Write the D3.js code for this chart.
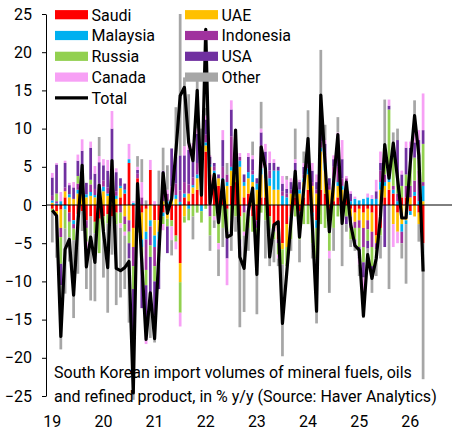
<!DOCTYPE html>
<html>
<head>
<meta charset="utf-8">
<script src="https://cdn.jsdelivr.net/npm/d3@7"></script>
<style>
  body { margin: 0; background: #fff; }
  svg { display: block; font-family: Roboto, "Noto Sans", sans-serif; }
</style>
</head>
<body>
<svg id="chart" width="452" height="431"></svg>
<script>
// monthly contributions, Jan 2019 .. Apr 2026, % y/y
const saudi = [
  -0.5, -0.8, -0.6, 1.0, -1.0, -2.0, -1.2, -0.8, -2.0, -1.5, -2.2, -1.8,
  -1.5, -1.2, -1.5, -1.0, 1.0, 1.5, 5.5, -3.0, 3.5, -1.0, -0.5, 4.6,
  -2.0, -2.0, -1.0, -1.0, -2.0, -4.0, -7.6, 1.0, 0.5, 1.5, 2.0, 1.5,
  7.0, 4.0, 3.0, 2.5, 1.0, -0.5, 2.5, 3.0, -1.5, 1.0, 1.5, -1.5,
  -2.0, 1.0, 1.0, -1.5, -3.0, -4.5, -5.0, -2.5, -1.5, 1.0, -0.8, 1.0,
  2.0, -1.0, -2.0, 2.0, 1.5, -1.0, 0.5, 1.0, 0.5, 1.0, -0.5, -1.0,
  -0.5, -1.0, -0.5, -1.0, -4.0, -3.0, 1.0, 2.0, 1.5, -1.0, 1.0, 1.0,
  -0.8, 1.2, -1.0, -5.0
];
const uae = [
  0.3, -1.2, -2.4, 0.8, 1.0, 0.8, 1.5, 1.5, 1.0, 1.2, 1.0, 1.3,
  1.8, 1.2, 1.0, 0.8, 1.2, -1.5, -2.0, -2.5, -1.8, -3.5, -3.0, -2.0,
  -2.0, -1.5, 0.5, -0.8, 0.8, 0.8, -2.5, -1.5, 1.0, 0.8, 1.5, 1.0,
  0.8, 1.0, 1.0, 1.0, 2.0, 2.5, 2.0, 3.0, 5.0, 1.5, 2.0, 3.0,
  2.0, 3.0, 2.5, 2.5, 2.0, 2.0, -0.8, -3.0, 1.5, 2.0, 1.5, 2.0,
  2.0, 2.5, 1.5, 5.0, 3.0, 2.0, 2.5, 1.5, 1.5, 1.5, -1.0, -1.2,
  -1.5, -2.0, -1.5, -2.5, -1.0, 2.0, 1.5, 1.0, -2.5, -2.5, -2.5, -2.0,
  1.0, -1.5, -1.5, 0.5
];
const malaysia = [
  0.3, 0.2, 0.5, -0.6, 0.4, -0.5, 0.5, 0.8, 0.4, 0.5, 0.3, 0.5,
  0.6, 0.3, 0.5, 0.4, 0.3, 0.5, 0.5, 0.3, -0.8, -1.0, -1.0, -0.8,
  -1.5, -1.0, -0.5, 0.5, 0.4, 0.5, 0.4, 0.5, -0.5, 0.3, 0.5, -0.8,
  0.4, 0.3, 0.5, -0.5, 0.5, 0.5, 0.5, 0.5, 0.8, 0.5, 0.8, 1.0,
  0.8, 0.8, 1.5, 1.0, 2.5, 2.5, 1.2, 1.0, -0.5, 0.5, 0.5, 0.5,
  0.8, -0.5, -1.0, 0.5, 1.0, -1.5, 0.5, 0.5, 0.5, 0.5, 0.5, 0.8,
  0.6, 0.8, 1.0, 0.8, 0.8, 1.0, 0.5, 1.0, 0.5, 0.5, -1.0, -0.5,
  -0.5, 0.5, 0.5, 2.0
];
const indonesia = [
  0.6, 0.3, -1.2, 0.5, -1.2, -0.6, 0.8, 0.7, -1.0, 1.0, 0.8, 1.0,
  0.8, 0.8, 1.2, 0.6, -1.0, -1.0, -1.5, -2.5, 0.6, 1.0, -4.0, -2.5,
  -2.5, -1.5, 1.5, 1.0, 1.2, 1.5, 1.5, 1.5, 1.2, 1.0, 1.5, 2.0,
  1.0, -1.5, 0.5, -1.0, 1.5, 1.0, 4.0, 0.8, 0.5, -1.0, -1.5, 0.5,
  -1.0, 3.0, 0.5, 1.0, -0.5, -0.5, 0.6, 0.5, 0.5, 0.5, -0.7, 0.5,
  0.5, 0.5, 0.5, 0.8, 1.0, 0.5, 1.5, 2.0, 1.0, 0.5, -1.5, -0.8,
  -1.0, -2.5, -1.2, -2.0, -0.8, 1.5, 1.0, 0.5, 0.5, 1.0, -1.5, 1.5,
  1.5, 1.5, 4.0, 0.5
];
const russia = [
  -0.4, 1.0, -3.5, -2.5, -2.0, -1.5, 1.0, 1.6, -1.8, 0.6, -1.5, -4.5,
  -1.6, -1.2, 0.8, -1.5, -1.4, -1.0, -1.5, -3.0, -1.0, -1.5, -2.0, -1.5,
  -2.0, -1.0, -1.0, -1.0, -0.8, -0.8, -4.0, -0.8, -1.5, -1.5, -1.0, -1.5,
  -0.5, -2.5, -1.5, -3.5, -3.0, -3.0, -2.0, -1.5, -3.0, -2.5, -1.5, -2.0,
  -1.5, -1.0, -2.0, -1.5, -1.0, -1.5, -2.0, -2.5, -2.5, -1.5, -3.0, -2.5,
  -2.5, -3.5, -4.0, -2.5, -3.0, -3.5, -3.0, -1.5, -2.0, -1.5, -1.5, -1.5,
  -2.5, -2.0, -1.5, -2.5, -1.0, -1.0, 1.5, 8.0, 4.0, 2.0, 1.5, 1.5,
  3.0, 3.0, 1.5, 5.0
];
const usa = [
  2.4, 3.8, -2.8, 3.2, 1.2, 1.5, 2.0, 2.5, 1.5, 4.2, 2.0, 2.8,
  2.0, 2.2, 6.5, 2.5, 1.0, 0.8, -2.0, -10.0, 0.5, -6.5, -6.0, -5.0,
  -4.5, -4.0, 2.5, -3.5, 5.0, 3.5, 4.6, 3.5, 4.5, 3.5, 3.8, 3.0,
  2.0, 1.0, 0.5, 0.5, 3.5, -3.5, 3.5, 1.0, -2.0, 1.0, 2.0, 1.5,
  0.7, 1.7, 1.5, 1.0, 1.0, 0.5, 1.0, 0.6, 1.0, 1.5, 1.0, 1.0,
  1.5, 1.5, 1.0, 1.5, 1.5, 1.0, 1.0, 3.0, 2.5, -1.0, 1.0, -1.0,
  -1.5, -2.0, -1.0, -1.0, 1.0, 1.0, -5.5, 0.5, 1.0, 5.0, 1.5, 3.5,
  2.0, 2.0, 2.5, 1.8
];
const canada = [
  0.6, 0.2, 1.2, 0.3, 0.3, 0.7, 0.8, 1.5, -1.0, 0.8, 1.0, 0.8,
  0.8, 1.4, 2.3, 0.5, -0.6, -0.5, 2.0, 0.2, 0.4, 2.0, -1.7, 1.3,
  0.5, 0.0, -0.8, 0.5, -1.8, -1.0, -1.8, 1.2, 0.8, 1.0, 0.7, 0.5,
  0.5, 0.2, -0.5, -0.8, 1.3, -3.5, 1.2, 0.5, 0.5, -0.5, 0.5, 0.5,
  -0.5, 0.5, 1.0, 1.5, 0.5, -0.5, 1.0, 1.2, 0.5, 0.5, 0.3, 0.5,
  0.6, 1.0, 1.0, 0.5, 0.5, -1.0, 0.5, 1.5, 2.5, 0.3, 0.3, 0.3,
  -0.8, -3.5, 0.5, 0.5, 1.5, 1.5, 1.0, 0.8, -3.0, -1.5, 0.5, 0.8,
  0.8, 3.0, 1.3, 4.8
];
const other = [
  -4.0, -4.9, -8.4, -8.5, -3.2, -10.2, -7.8, -2.6, -5.2, -11.0, -8.9, 2.5,
  -6.4, -11.7, -5.0, -10.6, -9.1, -7.0, -8.4, -4.5, 1.4, 3.0, 0.6, -5.6,
  -3.5, 4.5, 3.0, 3.2, -2.0, 6.5, 18.5, 9.0, 6.5, -3.0, 6.8, 2.0,
  1.0, -2.0, -1.0, -3.5, -2.5, 1.5, -4.0, -2.0, -9.5, -10.0, -3.0, 1.8,
  -9.3, 3.5, -5.0, -5.0, -3.0, -1.0, -12.0, 0.5, -1.5, 4.0, -3.0, 1.5,
  5.0, -2.0, -8.5, 10.0, 2.0, -4.5, -3.0, 2.0, -6.0, -1.0, -1.0, -0.5,
  -1.5, -1.8, -0.8, -2.5, -2.5, -3.0, 7.3, -11.0, 2.0, 1.5, -2.0, -7.8,
  0.0, 2.5, -2.3, -17.8
];
const total = [
  -0.7, -1.4, -17.2, -5.8, -4.5, -11.8, -2.4, 5.2, -8.1, -4.2, -7.5, 2.6,
  -3.5, -8.2, 5.8, -8.3, -8.6, -8.2, -7.4, -24.6, 2.8, -7.5, -17.6, -11.5,
  -17.5, -6.5, 4.2, -1.1, 0.8, 7.0, 14.3, 15.4, 8.2, 5.8, 15.0, 1.3,
  23.0, 0.2, 4.0, -2.3, 3.3, -4.2, -3.9, 9.8, -6.8, -8.3, -0.8, 2.2,
  -9.1, 7.6, 4.8, -6.8, -2.6, -2.2, -15.5, -8.9, -2.2, 4.4, -4.2, 2.2,
  8.7, -2.5, -13.9, 14.4, 5.5, -3.5, 3.0, 9.2, -2.4, 3.0, -2.5, -5.3,
  -5.9, -14.5, -6.5, -9.6, -7.0, -1.5, 7.9, 3.5, 8.1, 3.5, -1.7, -1.7,
  5.5, 11.7, 6.5, -8.7
];

const seriesNames = ["Saudi", "UAE", "Malaysia", "Indonesia", "Russia", "USA", "Canada", "Other"];
const seriesData = [saudi, uae, malaysia, indonesia, russia, usa, canada, other];
const seriesColors = ["#ff0000", "#ffc000", "#00b0f0", "#a0329e", "#92d050", "#7030a0", "#f7a0f5", "#a6a6a6"];
const yearLabels = ["19", "20", "21", "22", "23", "24", "25", "26"];
const yTicks = [-25, -20, -15, -10, -5, 0, 5, 10, 15, 20, 25];
const captionLines = [
  "South Korean import volumes of mineral fuels, oils",
  "and refined product, in % y/y (Source: Haver Analytics)"
];

const svg = d3.select("#chart");
const months = d3.range(total.length);

const rows = months.map((i) => {
  const row = { i: i };
  seriesNames.forEach((n, k) => (row[n] = seriesData[k][i]));
  return row;
});

const stacked = d3
  .stack()
  .keys(seriesNames)
  .offset(d3.stackOffsetDiverging)(rows);

const x = d3.scaleBand().domain(months).range([49.4, 426]).padding(0.36);
const y = d3.scaleLinear().domain([-25, 25]).range([396, 14]);
const color = d3.scaleOrdinal(seriesNames, seriesColors);
const cx = (i) => x(i) + x.bandwidth() / 2;

// bars
svg
  .append("g")
  .selectAll("g")
  .data(stacked)
  .join("g")
  .attr("fill", (s) => color(s.key))
  .selectAll("rect")
  .data((s) => s)
  .join("rect")
  .attr("x", (d) => x(d.data.i))
  .attr("width", x.bandwidth())
  .attr("y", (d) => y(Math.max(d[0], d[1])))
  .attr("height", (d) => Math.abs(y(d[0]) - y(d[1])));

// y axis
const yAxis = svg
  .append("g")
  .attr("transform", "translate(46,0)")
  .call(
    d3.axisLeft(y).tickValues(yTicks).tickSize(4).tickSizeOuter(0).tickPadding(10)
  );
yAxis.select(".domain").attr("stroke", "#000");
yAxis.selectAll(".tick line").attr("stroke", "#000");
yAxis
  .selectAll(".tick text")
  .attr("fill", "#000")
  .style("font-size", "16px")
  .style("font-family", "Roboto, 'Noto Sans', sans-serif");

// zero line
svg
  .append("line")
  .attr("x1", 46)
  .attr("x2", 452)
  .attr("y1", y(0))
  .attr("y2", y(0))
  .attr("stroke", "#000")
  .attr("stroke-width", 1);

// year labels under january bars
svg
  .append("g")
  .selectAll("text")
  .data(yearLabels)
  .join("text")
  .attr("x", (d, k) => cx(k * 12))
  .attr("y", 427)
  .attr("text-anchor", "middle")
  .style("font-size", "16px")
  .text((d) => d);

// caption
svg
  .append("g")
  .selectAll("text")
  .data(captionLines)
  .join("text")
  .attr("x", 54)
  .attr("y", (d, k) => 378 + k * 23.5)
  .style("font-size", "16px")
  .text((d) => d);

// total line
svg
  .append("path")
  .datum(months)
  .attr("fill", "none")
  .attr("stroke", "#000")
  .attr("stroke-width", 3.2)
  .attr("stroke-linejoin", "round")
  .attr("d", d3.line().x((i) => cx(i)).y((i) => y(total[i])));

// legend, row-wise in two columns
const legendItems = seriesNames.concat(["Total"]);
const legend = svg
  .append("g")
  .selectAll("g")
  .data(legendItems)
  .join("g")
  .attr("transform", (d, k) => {
    const col = k % 2;
    const row = Math.floor(k / 2);
    return `translate(${col ? 185 : 55},${14.7 + row * 20.8})`;
  });

legend
  .filter((d) => d !== "Total")
  .append("rect")
  .attr("x", 0)
  .attr("y", -4.6)
  .attr("width", 33)
  .attr("height", 9.2)
  .attr("fill", (d) => color(d));

legend
  .filter((d) => d === "Total")
  .append("line")
  .attr("x1", 0)
  .attr("x2", 33)
  .attr("stroke", "#000")
  .attr("stroke-width", 3.2);

legend
  .append("text")
  .attr("x", 36.5)
  .attr("y", 5.8)
  .style("font-size", "16px")
  .text((d) => d);
</script>
</body>
</html>
